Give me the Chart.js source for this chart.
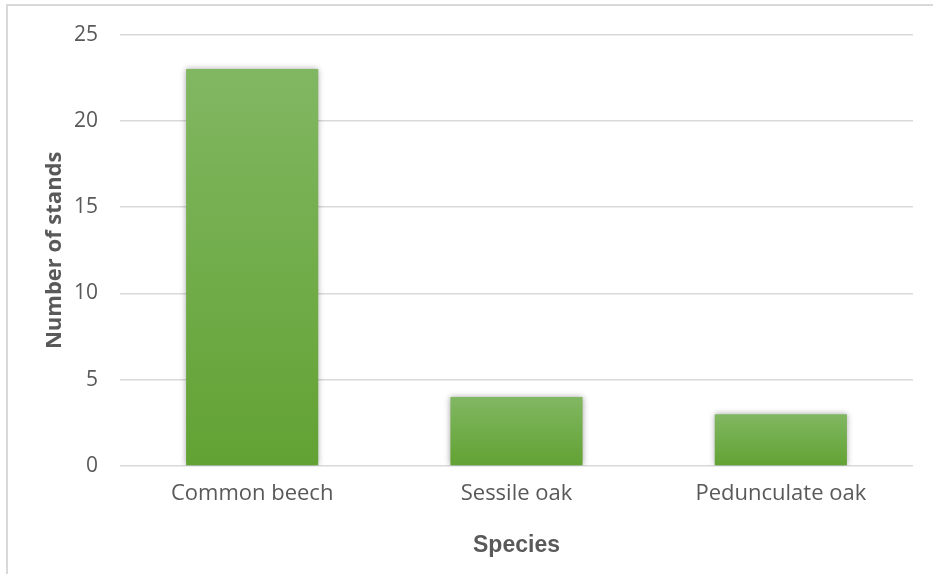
<!DOCTYPE html>
<html>
<head>
<meta charset="utf-8">
<script src="https://cdn.jsdelivr.net/npm/chart.js@4/dist/chart.umd.min.js"></script>
<style>
  html, body { margin: 0; padding: 0; background: #ffffff; }
  #wrap { position: relative; width: 933px; height: 574px; overflow: hidden; }
  #frame {
    position: absolute; left: 6px; top: 4px; width: 2000px; height: 2000px;
    border-left: 2px solid #d9d9d9; border-top: 2px solid #d9d9d9;
  }
  canvas { position: absolute; left: 0; top: 0; }
</style>
</head>
<body>
<div id="wrap">
  <div id="frame"></div>
  <canvas id="chart" width="933" height="574"></canvas>
</div>
<script>
// Number of forest stands per tree species
const species = ['Common beech', 'Sessile oak', 'Pedunculate oak'];
const stands = [23, 4, 3];
const yTicks = [0, 5, 10, 15, 20, 25];

const TEXT = '#595959';
const GRID = '#d9d9d9';

// Vertical green gradient fitted to each bar
function barFill(context) {
  const chart = context.chart;
  const yScale = chart.scales && chart.scales.y;
  if (!chart.chartArea || !yScale) return '#70ad47';
  const v = context.raw;
  const yTop = yScale.getPixelForValue(v);
  const yBot = yScale.getPixelForValue(0);
  if (!isFinite(yTop) || !isFinite(yBot) || yTop === yBot) return '#70ad47';
  const g = chart.ctx.createLinearGradient(0, yTop, 0, yBot);
  g.addColorStop(0, '#81b762');
  g.addColorStop(1, '#62a233');
  return g;
}

// Soft drop shadow behind the bars
const barShadow = {
  id: 'barShadow',
  beforeDatasetsDraw(chart) {
    const ctx = chart.ctx;
    ctx.save();
    ctx.shadowColor = 'rgba(0,0,0,0.35)';
    ctx.shadowBlur = 6;
    ctx.shadowOffsetX = 0;
    ctx.shadowOffsetY = 0;
  },
  afterDatasetsDraw(chart) {
    chart.ctx.restore();
  }
};

new Chart(document.getElementById('chart'), {
  type: 'bar',
  data: {
    labels: species,
    datasets: [{
      label: 'Number of stands',
      data: stands,
      backgroundColor: barFill,
      borderWidth: 0,
      barPercentage: 0.5,
      categoryPercentage: 1.0
    }]
  },
  plugins: [barShadow],
  options: {
    responsive: false,
    animation: false,
    layout: { padding: { left: 0, top: 34, right: 20, bottom: 0 } },
    plugins: {
      legend: { display: false },
      tooltip: { enabled: false }
    },
    scales: {
      x: {
        grid: { display: false, drawTicks: false },
        border: { display: false },
        ticks: {
          color: TEXT,
          padding: 15,
          font: { family: '"Open Sans", sans-serif', size: 22 }
        },
        title: {
          display: true,
          text: 'Species',
          color: TEXT,
          padding: { top: 0, bottom: 15 },
          font: { family: '"Liberation Sans", Arial, sans-serif', size: 23, weight: 'bold' }
        },
        afterFit(scale) { scale.height = 108; }
      },
      y: {
        min: 0,
        max: 25,
        afterBuildTicks(scale) { scale.ticks = yTicks.map(v => ({ value: v })); },
        grid: { color: GRID, lineWidth: 1.5, drawTicks: false },
        border: { display: false },
        ticks: {
          color: TEXT,
          padding: 22,
          font: { family: '"Open Sans", sans-serif', size: 21 }
        },
        title: {
          display: true,
          text: 'Number of stands',
          color: TEXT,
          padding: { top: 42, bottom: 0 },
          font: { family: '"Open Sans", sans-serif', size: 22, weight: 'bold' }
        },
        afterFit(scale) { scale.width = 120; }
      }
    }
  }
});
</script>
</body>
</html>
